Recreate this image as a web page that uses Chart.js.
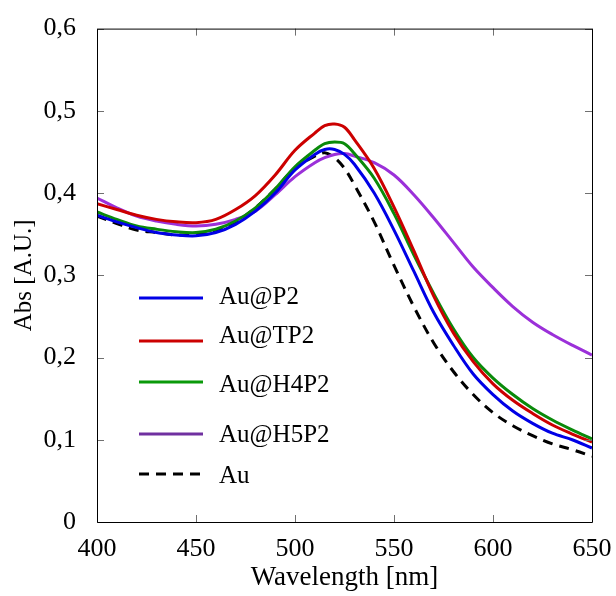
<!DOCTYPE html>
<html>
<head>
<meta charset="utf-8">
<script src="https://cdn.jsdelivr.net/npm/chart.js@4"></script>
<style>
  html, body { margin: 0; padding: 0; background: #fff; }
  #wrap { width: 616px; height: 596px; }
</style>
</head>
<body>
<div id="wrap"><canvas id="absChart" width="616" height="596"></canvas></div>
<script>
// wavelengths (nm) and absorbance values
const wavelengths = [400, 410, 420, 430, 440, 450, 460, 470, 480, 490, 500, 510, 515, 520, 525, 530, 540, 550, 560, 570, 580, 590, 600, 610, 620, 630, 640, 650];
const auP2   = [0.373, 0.365, 0.358, 0.352, 0.349, 0.348, 0.352, 0.362, 0.378, 0.400, 0.428, 0.447, 0.453, 0.453, 0.447, 0.435, 0.400, 0.355, 0.305, 0.255, 0.215, 0.180, 0.155, 0.135, 0.120, 0.108, 0.100, 0.090];
const auTP2  = [0.387, 0.380, 0.373, 0.368, 0.365, 0.364, 0.368, 0.380, 0.397, 0.422, 0.452, 0.473, 0.482, 0.484, 0.480, 0.465, 0.430, 0.383, 0.330, 0.275, 0.230, 0.195, 0.168, 0.148, 0.132, 0.118, 0.107, 0.097];
const auH4P2 = [0.377, 0.368, 0.360, 0.356, 0.353, 0.352, 0.356, 0.366, 0.382, 0.405, 0.432, 0.452, 0.460, 0.462, 0.460, 0.448, 0.418, 0.375, 0.325, 0.278, 0.235, 0.200, 0.175, 0.155, 0.138, 0.124, 0.112, 0.101];
const auH5P2 = [0.394, 0.382, 0.372, 0.366, 0.362, 0.360, 0.362, 0.368, 0.378, 0.398, 0.420, 0.437, 0.443, 0.447, 0.448, 0.445, 0.437, 0.422, 0.398, 0.370, 0.340, 0.310, 0.285, 0.262, 0.243, 0.228, 0.215, 0.203];
const auBare = [0.372, 0.363, 0.355, 0.352, 0.349, 0.350, 0.355, 0.365, 0.382, 0.405, 0.430, 0.445, 0.449, 0.443, 0.430, 0.410, 0.365, 0.312, 0.262, 0.218, 0.183, 0.155, 0.133, 0.117, 0.105, 0.095, 0.088, 0.080];

const seriesNames = ['Au@P2', 'Au@TP2', 'Au@H4P2', 'Au@H5P2', 'Au'];
const seriesColors = ['#0000e6', '#cc0000', '#0a8a0a', '#9b30d9', '#000000'];
const legendColors = ['#0000e6', '#cc0000', '#0a9a0a', '#7030a0', '#000000'];
const xTicks = [400, 450, 500, 550, 600, 650];
const yTicks = [0, 0.1, 0.2, 0.3, 0.4, 0.5, 0.6];

const FONT = '"Liberation Serif", "Times New Roman", serif';

function toPoints(vals) {
    return wavelengths.map((w, i) => ({ x: w, y: vals[i] }));
}

const allValues = [auP2, auTP2, auH4P2, auH5P2, auBare];
const datasets = allValues.map((vals, i) => ({
    label: seriesNames[i],
    data: toPoints(vals),
    borderColor: seriesColors[i],
    borderWidth: 3,
    borderDash: i === 4 ? [10, 7] : [],
    pointRadius: 0,
    tension: 0.35,
    fill: false
}));

// box + inward ticks on all four sides, and the hand placed legend
const framePlugin = {
    id: 'frame',
    afterDraw(chart) {
        const ctx = chart.ctx;
        const a = chart.chartArea;
        const xs = chart.scales.x, ys = chart.scales.y;
        ctx.save();
        ctx.strokeStyle = '#707070';
        ctx.lineWidth = 1;
        ctx.beginPath();
        xTicks.forEach(t => {
            const px = Math.round(xs.getPixelForValue(t)) + 0.5;
            ctx.moveTo(px, a.bottom); ctx.lineTo(px, a.bottom - 7);
            ctx.moveTo(px, a.top); ctx.lineTo(px, a.top + 7);
        });
        yTicks.forEach(t => {
            const py = Math.round(ys.getPixelForValue(t)) + 0.5;
            ctx.moveTo(a.left, py); ctx.lineTo(a.left + 7, py);
            ctx.moveTo(a.right, py); ctx.lineTo(a.right - 7, py);
        });
        ctx.stroke();
        ctx.strokeStyle = '#000';
        ctx.beginPath();
        ctx.moveTo(a.left + 0.5, a.top + 0.5);
        ctx.lineTo(a.right + 0.5, a.top + 0.5);
        ctx.lineTo(a.right + 0.5, a.bottom + 0.5);
        ctx.lineTo(a.left + 0.5, a.bottom + 0.5);
        ctx.closePath();
        ctx.stroke();

        // legend
        const rows = [298, 341, 382, 434, 474];
        const textY = [297, 336, 385, 435, 476];
        ctx.font = '25px ' + FONT;
        ctx.textBaseline = 'middle';
        rows.forEach((y, i) => {
            ctx.strokeStyle = legendColors[i];
            ctx.lineWidth = 3;
            ctx.setLineDash(i === 4 ? [10, 7] : []);
            ctx.beginPath();
            ctx.moveTo(139, y);
            ctx.lineTo(203, y);
            ctx.stroke();
            ctx.setLineDash([]);
            ctx.fillStyle = '#000';
            ctx.fillText(seriesNames[i], 219, textY[i]);
        });
        ctx.restore();
    }
};

const ctx = document.getElementById('absChart').getContext('2d');
new Chart(ctx, {
    type: 'line',
    data: { datasets: datasets },
    options: {
        responsive: false,
        animation: false,
        layout: { padding: { top: 28, right: 24, left: 0, bottom: 0 } },
        plugins: {
            legend: { display: false },
            tooltip: { enabled: false }
        },
        scales: {
            x: {
                type: 'linear',
                min: 400,
                max: 650,
                afterBuildTicks: s => { s.ticks = xTicks.map(v => ({ value: v })); },
                afterFit: s => { s.height = 74; },
                grid: { display: false },
                border: { display: false },
                ticks: {
                    color: '#000',
                    font: { family: FONT, size: 26 },
                    padding: 4,
                    maxRotation: 0
                },
                title: {
                    display: true,
                    text: 'Wavelength [nm]',
                    color: '#000',
                    font: { family: FONT, size: 27 },
                    padding: { top: 0, bottom: 2 }
                }
            },
            y: {
                min: 0,
                max: 0.6,
                afterBuildTicks: s => { s.ticks = yTicks.map(v => ({ value: v })); },
                afterFit: s => { s.width = 97; },
                grid: { display: false },
                border: { display: false },
                ticks: {
                    color: '#000',
                    font: { family: FONT, size: 26 },
                    padding: 13,
                    callback: v => v === 0 ? '0' : v.toFixed(1).replace('.', ',')
                },
                title: {
                    display: true,
                    text: 'Abs [A.U.]',
                    color: '#000',
                    font: { family: FONT, size: 25 },
                    padding: { top: 9, bottom: 0 }
                }
            }
        }
    },
    plugins: [framePlugin]
});
</script>
</body>
</html>
